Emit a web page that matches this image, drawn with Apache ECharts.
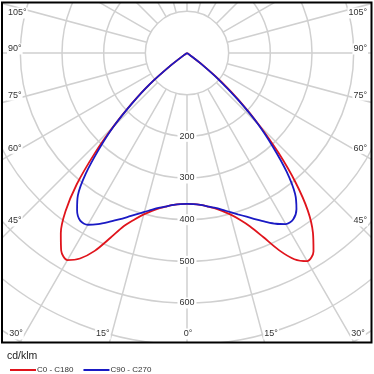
<!DOCTYPE html>
<html>
<head>
<meta charset="utf-8">
<script src="https://cdn.jsdelivr.net/npm/echarts@6/dist/echarts.min.js"></script>
<style>
html,body{margin:0;padding:0;background:#fff;}
#chart{width:374px;height:374px;}
</style>
</head>
<body>
<div id="chart"></div>
<script>
// gamma angles (degrees from nadir)
const gammas = [0, 2.5, 5, 7.5, 10, 12.5, 15, 17.5, 20, 22.5, 25, 27.5, 30, 32.5, 35, 37.5, 40, 42.5, 45, 47.5, 50, 52.5, 55, 57.5, 60];
// intensities cd/klm
const c0   = [362, 363, 366, 371, 378, 388, 401, 419, 443, 478, 522, 558, 577, 565, 527, 476, 405, 325, 245, 172, 108, 45, 9, 0, 0];
const c180 = [362, 363, 366, 371, 378, 388, 401, 419, 442, 480, 524, 556, 574, 562, 528, 479, 412, 330, 250, 180, 118, 50, 10, 0, 0];
const c90  = [362, 363, 366, 371, 377, 385, 395, 406, 418, 432, 447, 462, 474, 474, 458, 426, 372, 305, 240, 165, 100, 42, 8, 0, 0];
const c270 = [362, 363, 366, 371, 377, 385, 395, 406, 419, 433, 448, 463, 476, 477, 460, 430, 378, 312, 248, 178, 118, 50, 10, 0, 0];
const seriesNames = ['C0 - C180', 'C90 - C270'];
const angleTicks = [105, 90, 75, 60, 45, 30, 15, 0];
const radialTicks = [200, 300, 400, 500, 600];
const unitLabel = 'cd/klm';

// layout
const CX = 187, CY = 53;
const R_INNER = 41.667, R_OUTER = 375; // 100 -> 41.667px, 900 -> 375px
const GRID_COLOR = '#d0d0d0';
const FONT = 'Liberation Sans, Arial, sans-serif';

function half(left, right) {
  const d = [];
  for (let i = gammas.length - 1; i >= 0; i--) d.push([left[i], -gammas[i]]);
  for (let i = 1; i < gammas.length; i++) d.push([right[i], gammas[i]]);
  return d;
}

const graphics = [];
const rad = Math.PI / 180;
const pxPerUnit = (R_OUTER - R_INNER) / 800;
[-1, 1].forEach(side => {
  angleTicks.forEach(g => {
    if (g === 0 && side > 0) return;
    let x, y, align;
    if (g >= 45) {
      y = CY + 172 * Math.tan((90 - g) * rad) - 4;
      y = Math.max(13, y);
      x = side < 0 ? 7 : 368;
      align = side < 0 ? 'left' : 'right';
    } else if (g > 0) {
      y = 334;
      const xi = CX + side * 281 * Math.tan(g * rad);
      x = side < 0 ? xi - 1 : xi + 1;
      align = side < 0 ? 'right' : 'left';
    } else {
      y = 334; x = CX + 1; align = 'center';
    }
    graphics.push({
      type: 'text', z: 50, x: x, y: y,
      style: { text: g + '°', fill: '#333', font: '9px ' + FONT, align: align, verticalAlign: 'middle',
               backgroundColor: '#fff', padding: [1, 1] }
    });
  });
});
radialTicks.forEach(v => {
  graphics.push({
    type: 'text', z: 50, x: CX, y: CY + v * pxPerUnit,
    style: { text: String(v), fill: '#333', font: '9px ' + FONT, align: 'center', verticalAlign: 'middle',
             backgroundColor: '#fff', padding: [1, 2] }
  });
});
[[0, 0, 374, 2], [0, 343, 374, 31], [0, 0, 2, 374], [372, 0, 2, 374]].forEach(r => {
  graphics.push({ type: 'rect', z: 100, shape: { x: r[0], y: r[1], width: r[2], height: r[3] }, style: { fill: '#fff' } });
});
graphics.push({ type: 'rect', z: 110, shape: { x: 2, y: 2.5, width: 369.5, height: 340 }, style: { fill: 'none', stroke: '#000', lineWidth: 2 } });
graphics.push({ type: 'text', z: 120, x: 7, y: 356, style: { text: unitLabel, fill: '#222', font: '10.5px ' + FONT, align: 'left', verticalAlign: 'middle' } });

const gridLine = { color: GRID_COLOR, width: 1.5 };
const chart = echarts.init(document.getElementById('chart'), null, { renderer: 'canvas' });
chart.setOption({
  animation: false,
  backgroundColor: '#fff',
  polar: [
    { center: [CX, CY], radius: [R_INNER, R_OUTER] },
    { center: [CX, CY], radius: [0, R_OUTER] }
  ],
  angleAxis: [
    { polarIndex: 0, type: 'value', min: -180, max: 180, interval: 15, startAngle: 90, clockwise: false,
      axisLine: { show: false }, axisTick: { show: false }, axisLabel: { show: false },
      splitLine: { show: true, lineStyle: gridLine } },
    { polarIndex: 1, type: 'value', min: -180, max: 180, startAngle: 90, clockwise: false, show: false }
  ],
  radiusAxis: [
    { polarIndex: 0, type: 'value', min: 100, max: 900, interval: 100,
      axisLine: { show: false }, axisTick: { show: false }, axisLabel: { show: false },
      splitLine: { show: true, lineStyle: gridLine } },
    { polarIndex: 1, type: 'value', min: 0, max: 900, show: false }
  ],
  legend: {
    z: 200, left: 5, top: 361, itemWidth: 26, itemHeight: 2, itemGap: 10, icon: 'rect',
    textStyle: { fontSize: 8, fontFamily: FONT, color: '#333', padding: [0, 0, 0, -4] },
    data: seriesNames
  },
  series: [
    { name: seriesNames[0], type: 'line', coordinateSystem: 'polar', polarIndex: 1, symbol: 'none', smooth: 0.3,
      lineStyle: { color: '#e0141c', width: 1.8 }, itemStyle: { color: '#e0141c' }, data: half(c180, c0) },
    { name: seriesNames[1], type: 'line', coordinateSystem: 'polar', polarIndex: 1, symbol: 'none', smooth: 0.3,
      lineStyle: { color: '#1a1ac4', width: 1.8 }, itemStyle: { color: '#1a1ac4' }, data: half(c270, c90) }
  ],
  graphic: graphics
});
</script>
</body>
</html>
